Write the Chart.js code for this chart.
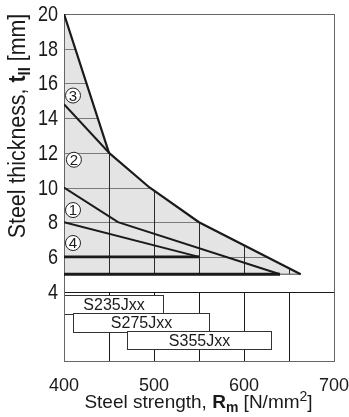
<!DOCTYPE html>
<html lang="en">
<head>
    <meta charset="UTF-8">
    <title>Steel thickness vs steel strength</title>
    <style>
        body { margin: 0; padding: 0; background-color: #fff; }
        .chart-box { width: 349px; height: 417px; position: relative; }
    </style>
    <script src="https://cdn.jsdelivr.net/npm/chart.js"></script>
</head>
<body>

<div class="chart-box">
    <canvas id="myChart"></canvas>
</div>

<script>
    // Axis ranges and ticks
    const xTicks = [400, 500, 600, 700];
    const yTicks = [4, 6, 8, 10, 12, 14, 16, 18, 20];
    const gridX = [450, 500, 550, 600, 650];
    const gridY = [6, 8, 10, 12, 14, 16, 18];

    // Outer limit of the shaded zone (down to 5 mm)
    const boundaryX = [400, 450, 495, 550, 663];
    const boundaryY = [20, 12, 10, 8, 5];

    // Inner curves
    const curve2X = [400, 450];
    const curve2Y = [14.8, 12];
    const curve1X = [400, 460, 640];
    const curve1Y = [10, 8, 5];
    const curve4X = [400, 550];
    const curve4Y = [8, 6];
    const line6X = [400, 550];
    const line6Y = [6, 6];
    const line5X = [400, 640];
    const line5Y = [5, 5];
    const baseX = [640, 663];
    const baseY = [5, 5];

    // Zone markers
    const zoneNames = ['1', '2', '3', '4'];
    const zoneX = [410, 411, 410, 410];
    const zoneY = [8.7, 11.6, 15.3, 6.8];

    // Steel grades, strength ranges
    const gradeNames = ['S235Jxx', 'S275Jxx', 'S355Jxx'];
    const gradeFrom = [400, 410, 470];
    const gradeTo = [510, 561, 630];

    const FONT = "'Liberation Sans', Arial, sans-serif";

    function pts(xs, ys) {
        return xs.map((x, i) => ({ x: x, y: ys[i] }));
    }

    function lineSet(xs, ys, width, color) {
        return {
            data: pts(xs, ys),
            borderColor: color || '#1a1a1a',
            borderWidth: width,
            pointRadius: 0,
            showLine: true,
            fill: false,
            tension: 0
        };
    }

    // Shaded zone, clipped grid, lower grade table and frame
    const backgroundPlugin = {
        id: 'backgroundPlugin',
        beforeDatasetsDraw(chart) {
            const ctx = chart.ctx;
            const xs = chart.scales.x, ys = chart.scales.y;
            const area = chart.chartArea;
            const px = v => xs.getPixelForValue(v);
            const py = v => ys.getPixelForValue(v);

            ctx.save();
            ctx.beginPath();
            boundaryX.forEach((x, i) => {
                if (i === 0) ctx.moveTo(px(x), py(boundaryY[i]));
                else ctx.lineTo(px(x), py(boundaryY[i]));
            });
            ctx.lineTo(px(boundaryX[0]), py(boundaryY[boundaryY.length - 1]));
            ctx.closePath();
            ctx.fillStyle = '#e4e4e4';
            ctx.fill();
            ctx.clip();

            ctx.lineWidth = 1;
            ctx.strokeStyle = '#7a7a7a';
            gridY.forEach(v => {
                const y = Math.round(py(v)) + 0.5;
                ctx.beginPath();
                ctx.moveTo(area.left, y);
                ctx.lineTo(area.right, y);
                ctx.stroke();
            });
            ctx.strokeStyle = '#2a2a2a';
            gridX.forEach(v => {
                const x = Math.round(px(v)) + 0.5;
                ctx.beginPath();
                ctx.moveTo(x, area.top);
                ctx.lineTo(x, area.bottom);
                ctx.stroke();
            });
            ctx.restore();

            // lower part: grade table
            ctx.save();
            ctx.lineWidth = 1;
            ctx.strokeStyle = '#1a1a1a';
            const y4 = Math.round(py(4)) + 0.5;
            gridX.forEach(v => {
                const x = Math.round(px(v)) + 0.5;
                ctx.beginPath();
                ctx.moveTo(x, y4);
                ctx.lineTo(x, area.bottom);
                ctx.stroke();
            });
            ctx.beginPath();
            ctx.moveTo(area.left, y4);
            ctx.lineTo(area.right, y4);
            ctx.stroke();

            ctx.font = '16px ' + FONT;
            ctx.textAlign = 'center';
            ctx.textBaseline = 'middle';
            gradeNames.forEach((name, i) => {
                const top = py(3.79 - i * 1.03);
                const bot = py(2.73 - i * 1.03);
                const l = Math.round(px(gradeFrom[i])) + 0.5;
                const r = Math.round(px(gradeTo[i])) + 0.5;
                ctx.fillStyle = '#fff';
                ctx.fillRect(l, Math.round(top) + 0.5, r - l, Math.round(bot) - Math.round(top));
                ctx.strokeStyle = '#333';
                ctx.strokeRect(l, Math.round(top) + 0.5, r - l, Math.round(bot) - Math.round(top));
                ctx.fillStyle = '#1a1a1a';
                ctx.fillText(name, (l + r) / 2, (top + bot) / 2 + 1);
            });

            ctx.strokeStyle = '#666';
            ctx.strokeRect(Math.round(area.left) + 0.5, Math.round(area.top) + 0.5,
                Math.round(area.right - area.left), Math.round(area.bottom - area.top));
            ctx.restore();
        },
        afterDatasetsDraw(chart) {
            const ctx = chart.ctx;
            const xs = chart.scales.x, ys = chart.scales.y;
            ctx.save();
            ctx.font = '15px ' + FONT;
            ctx.textAlign = 'center';
            ctx.textBaseline = 'middle';
            zoneNames.forEach((n, i) => {
                const x = xs.getPixelForValue(zoneX[i]);
                const y = ys.getPixelForValue(zoneY[i]);
                ctx.beginPath();
                ctx.arc(x, y, 7.5, 0, Math.PI * 2);
                ctx.fillStyle = '#fff';
                ctx.fill();
                ctx.lineWidth = 1;
                ctx.strokeStyle = '#222';
                ctx.stroke();
                ctx.fillStyle = '#1a1a1a';
                ctx.fillText(n, x, y + 1);
            });
            ctx.restore();
        },
        afterDraw(chart) {
            const ctx = chart.ctx;
            const ys = chart.scales.y;
            ctx.save();
            ctx.fillStyle = '#1a1a1a';

            // y tick labels, condensed like the original
            ctx.font = '22px ' + FONT;
            ctx.textAlign = 'right';
            ctx.textBaseline = 'middle';
            yTicks.forEach(v => {
                ctx.save();
                ctx.translate(58, ys.getPixelForValue(v) + 1);
                ctx.scale(0.82, 1);
                ctx.fillText(String(v), 0, 0);
                ctx.restore();
            });

            ctx.textBaseline = 'alphabetic';
            // x title: Steel strength, Rm [N/mm2]
            const partsX = [
                ['Steel strength, ', '19px ' + FONT, 0],
                ['R', 'bold 19px ' + FONT, 0],
                ['m', 'bold 14px ' + FONT, 4],
                [' [N/mm', '19px ' + FONT, 0],
                ['2', '14px ' + FONT, -7],
                [']', '19px ' + FONT, 0]
            ];
            drawParts(ctx, partsX, 198.5, 408);

            // y title: Steel thickness, tII [mm]
            ctx.translate(25, 126);
            ctx.rotate(-Math.PI / 2);
            ctx.scale(0.93, 1);
            const partsY = [
                ['Steel thickness, ', '23px ' + FONT, 0],
                ['t', 'bold 23px ' + FONT, 0],
                ['II', 'bold 16px ' + FONT, 5],
                [' [mm]', '23px ' + FONT, 0]
            ];
            drawParts(ctx, partsY, 0, 0);
            ctx.restore();
        }
    };

    function drawParts(ctx, parts, cx, baseline) {
        let total = 0;
        parts.forEach(p => { ctx.font = p[1]; total += ctx.measureText(p[0]).width; });
        let x = cx - total / 2;
        ctx.textAlign = 'left';
        parts.forEach(p => {
            ctx.font = p[1];
            ctx.fillText(p[0], x, baseline + p[2]);
            x += ctx.measureText(p[0]).width;
        });
    }

    const ctx = document.getElementById('myChart').getContext('2d');
    const myChart = new Chart(ctx, {
        type: 'scatter',
        data: {
            datasets: [
                lineSet(boundaryX, boundaryY, 2.2),
                lineSet(curve2X, curve2Y, 2),
                lineSet(curve1X, curve1Y, 2),
                lineSet(curve4X, curve4Y, 2),
                lineSet(line6X, line6Y, 2.6),
                lineSet(line5X, line5Y, 3.2),
                lineSet(baseX, baseY, 1.2, '#666')
            ]
        },
        options: {
            responsive: true,
            maintainAspectRatio: false,
            animation: false,
            events: [],
            layout: { padding: { top: 14, right: 15, left: 0, bottom: 0 } },
            plugins: { legend: { display: false }, tooltip: { enabled: false } },
            scales: {
                x: {
                    type: 'linear',
                    min: 400, max: 700,
                    afterBuildTicks: s => { s.ticks = xTicks.map(v => ({ value: v })); },
                    afterFit: s => { s.height = 56; s.paddingLeft = 0; s.paddingRight = 0; },
                    grid: { display: false },
                    border: { display: false },
                    ticks: { color: '#1a1a1a', font: { family: FONT, size: 18 }, padding: 6, maxRotation: 0 }
                },
                y: {
                    min: 0, max: 20,
                    afterBuildTicks: s => { s.ticks = yTicks.map(v => ({ value: v })); },
                    afterFit: s => { s.width = 64; s.paddingTop = 0; s.paddingBottom = 0; },
                    grid: { display: false },
                    border: { display: false },
                    ticks: { display: false }
                }
            }
        },
        plugins: [backgroundPlugin]
    });
</script>

</body>
</html>
